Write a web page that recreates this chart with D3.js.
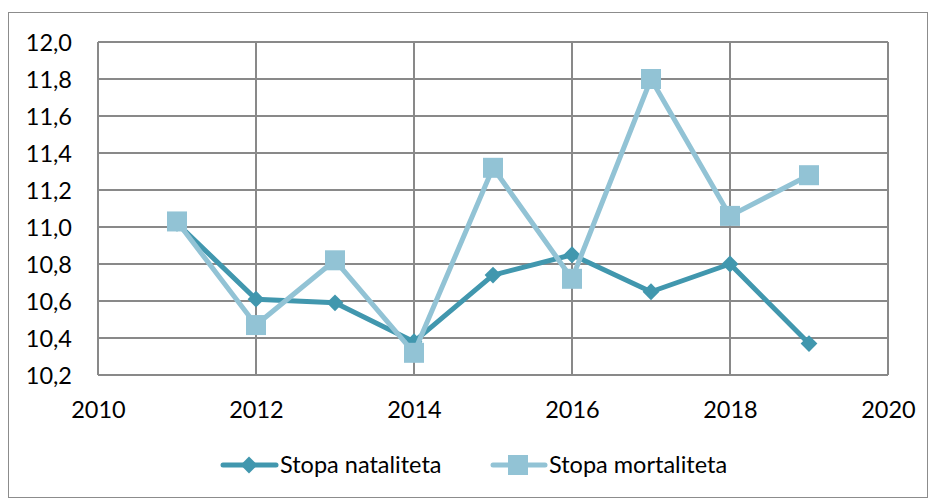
<!DOCTYPE html>
<html>
<head>
<meta charset="utf-8">
<script src="https://cdn.jsdelivr.net/npm/d3@7"></script>
<style>
  body { margin: 0; background: #fff; }
  text { font-family: Lato, "Open Sans", sans-serif; fill: #000; }
</style>
</head>
<body>
<div id="chart"></div>
<script>
// Data
const years = [2011, 2012, 2013, 2014, 2015, 2016, 2017, 2018, 2019];
const natalitet = [11.02, 10.61, 10.59, 10.38, 10.74, 10.85, 10.65, 10.80, 10.37];
const mortalitet = [11.03, 10.47, 10.82, 10.32, 11.32, 10.72, 11.80, 11.06, 11.28];
const yTicks = [10.2, 10.4, 10.6, 10.8, 11.0, 11.2, 11.4, 11.6, 11.8, 12.0];
const xTicks = [2010, 2012, 2014, 2016, 2018, 2020];
const seriesNames = ['Stopa nataliteta', 'Stopa mortaliteta'];

// Dimensions
const WIDTH = 931;
const HEIGHT = 499;
const MARGIN = { TOP: 42, BOTTOM: 124, LEFT: 98, RIGHT: 43 };
const DARK = '#4197ae';
const LIGHT = '#92c3d5';
const FONT = '23.5px';

const svg = d3
  .select('#chart')
  .append('svg')
  .attr('width', WIDTH)
  .attr('height', HEIGHT);

// outer border
svg.append('rect')
  .attr('x', 8.5).attr('y', 12.5)
  .attr('width', WIDTH - 12).attr('height', HEIGHT - 14)
  .attr('fill', 'none').attr('stroke', '#8c8c8c').attr('stroke-width', 1);

const g = svg.append('g');

// Scales
const x = d3.scaleLinear().domain([2010, 2020]).range([MARGIN.LEFT, WIDTH - MARGIN.RIGHT]);
const y = d3.scaleLinear().domain([10.2, 12.0]).range([HEIGHT - MARGIN.BOTTOM, MARGIN.TOP]);

// Grid
g.selectAll('.hgrid').data(yTicks).enter().append('line')
  .attr('x1', x(2010)).attr('x2', x(2020))
  .attr('y1', (d) => y(d)).attr('y2', (d) => y(d))
  .attr('stroke', '#898989').attr('stroke-width', 2);
g.selectAll('.vgrid').data(xTicks).enter().append('line')
  .attr('y1', y(10.2)).attr('y2', y(12.0))
  .attr('x1', (d) => x(d)).attr('x2', (d) => x(d))
  .attr('stroke', '#898989').attr('stroke-width', 2);

// Axes labels
const fmt = (d) => d.toFixed(1).replace('.', ',');
const yAxis = d3.axisLeft(y).tickValues(yTicks).tickFormat(fmt).tickSize(0).tickPadding(26);
g.append('g').attr('transform', `translate(${x(2010)},0)`).call(yAxis)
  .call((s) => s.select('.domain').remove())
  .selectAll('text').style('font-size', FONT).attr('dy', '0.35em');

const xAxis = d3.axisBottom(x).tickValues(xTicks).tickFormat(d3.format('d')).tickSize(0).tickPadding(26);
g.append('g').attr('transform', `translate(0,${y(10.2)})`).call(xAxis)
  .call((s) => s.select('.domain').remove())
  .selectAll('text').style('font-size', FONT);

// Lines
const line = d3.line().x((d) => x(d[0])).y((d) => y(d[1]));
const natData = years.map((yr, i) => [yr, natalitet[i]]);
const mortData = years.map((yr, i) => [yr, mortalitet[i]]);
const diamond = d3.symbol(d3.symbolDiamond2, 180)();

g.append('path').datum(natData).attr('d', line)
  .attr('fill', 'none').attr('stroke', DARK).attr('stroke-width', 5).attr('stroke-linejoin', 'round');
g.selectAll('.dia').data(natData).enter().append('path')
  .attr('d', diamond)
  .attr('transform', (d) => `translate(${x(d[0])},${y(d[1])})`)
  .attr('fill', DARK);

g.append('path').datum(mortData).attr('d', line)
  .attr('fill', 'none').attr('stroke', LIGHT).attr('stroke-width', 5).attr('stroke-linejoin', 'round');
g.selectAll('.sq').data(mortData).enter().append('rect')
  .attr('x', (d) => x(d[0]) - 10).attr('y', (d) => y(d[1]) - 10)
  .attr('width', 20).attr('height', 20)
  .attr('fill', LIGHT);

// Legend
const legY = 465;
const leg = svg.append('g');
leg.append('line').attr('x1', 223).attr('x2', 276).attr('y1', legY).attr('y2', legY)
  .attr('stroke', DARK).attr('stroke-width', 5).attr('stroke-linecap', 'round');
leg.append('path').attr('d', diamond)
  .attr('transform', `translate(249,${legY})`).attr('fill', DARK);
leg.append('text').attr('x', 280).attr('y', legY).attr('dy', '0.35em')
  .style('font-size', FONT).text(seriesNames[0]);

leg.append('line').attr('x1', 493).attr('x2', 545).attr('y1', legY).attr('y2', legY)
  .attr('stroke', LIGHT).attr('stroke-width', 5).attr('stroke-linecap', 'round');
leg.append('rect').attr('x', 508).attr('y', legY - 10).attr('width', 20).attr('height', 20)
  .attr('fill', LIGHT);
leg.append('text').attr('x', 549).attr('y', legY).attr('dy', '0.35em')
  .style('font-size', FONT).text(seriesNames[1]);
</script>
</body>
</html>
